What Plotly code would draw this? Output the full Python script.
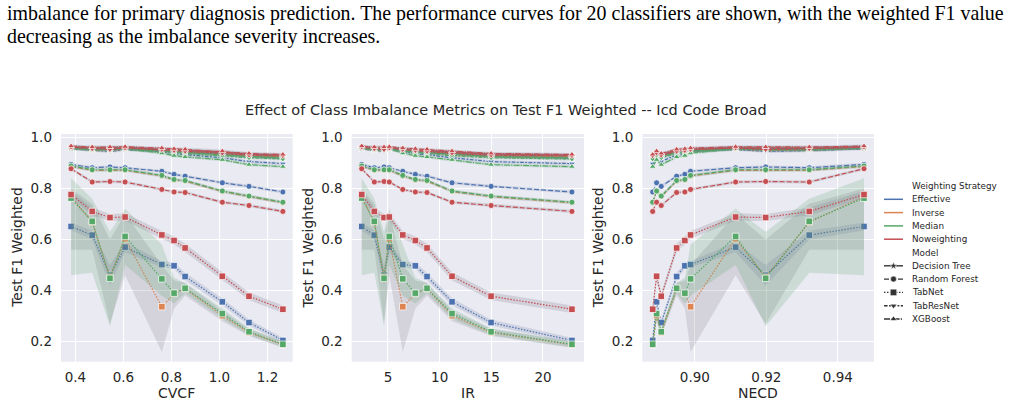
import plotly.graph_objects as go

W, H = 1010, 406

# ---------------- data ----------------
cvcf = [0.382, 0.470, 0.544, 0.607, 0.760, 0.811, 0.857, 1.012, 1.123, 1.264]
ir = [2.46, 3.68, 4.62, 5.13, 6.43, 7.65, 8.78, 11.2, 14.98, 22.8]
necd = [0.9473, 0.9320, 0.9198, 0.9114, 0.8988, 0.8972, 0.8949, 0.8893, 0.8906, 0.8882]

strategies = ["Effective", "Inverse", "Median", "Noweighting"]
models = ["Decision Tree", "Random Forest", "TabNet", "TabResNet", "XGBoost"]

dt_eff = [0.959, 0.955, 0.954, 0.957, 0.950, 0.947, 0.945, 0.938, 0.930, 0.925]
dt_inv = [0.958, 0.954, 0.954, 0.956, 0.949, 0.946, 0.943, 0.936, 0.928, 0.923]
dt_med = [0.957, 0.953, 0.953, 0.955, 0.947, 0.944, 0.941, 0.934, 0.925, 0.920]
dt_now = [0.961, 0.958, 0.957, 0.959, 0.953, 0.950, 0.948, 0.942, 0.934, 0.930]

rf_eff = [0.894, 0.881, 0.884, 0.881, 0.867, 0.855, 0.848, 0.822, 0.808, 0.786]
rf_inv = [0.886, 0.871, 0.871, 0.871, 0.849, 0.833, 0.829, 0.788, 0.768, 0.744]
rf_med = [0.888, 0.873, 0.873, 0.873, 0.851, 0.835, 0.831, 0.790, 0.770, 0.746]
rf_now = [0.877, 0.825, 0.827, 0.825, 0.796, 0.786, 0.784, 0.746, 0.733, 0.710]

tn_eff = [0.651, 0.617, 0.460, 0.570, 0.502, 0.497, 0.455, 0.356, 0.275, 0.205]
tn_inv = [0.768, 0.668, 0.452, 0.603, 0.337, 0.388, 0.407, 0.302, 0.236, 0.188]
tn_med = [0.762, 0.671, 0.448, 0.612, 0.446, 0.390, 0.409, 0.310, 0.239, 0.190]
tn_now = [0.776, 0.710, 0.686, 0.688, 0.618, 0.596, 0.567, 0.456, 0.378, 0.327]

trn_eff = [0.955, 0.948, 0.945, 0.952, 0.944, 0.936, 0.932, 0.920, 0.905, 0.897]
trn_inv = [0.958, 0.950, 0.948, 0.955, 0.948, 0.944, 0.940, 0.932, 0.925, 0.920]
trn_med = [0.960, 0.952, 0.950, 0.955, 0.947, 0.940, 0.937, 0.928, 0.920, 0.915]
trn_now = [0.962, 0.955, 0.952, 0.958, 0.952, 0.948, 0.945, 0.938, 0.930, 0.928]

xgb_eff = [0.963, 0.957, 0.958, 0.960, 0.950, 0.946, 0.944, 0.935, 0.925, 0.918]
xgb_inv = [0.962, 0.958, 0.958, 0.960, 0.953, 0.950, 0.948, 0.940, 0.930, 0.925]
xgb_med = [0.960, 0.950, 0.955, 0.955, 0.938, 0.928, 0.923, 0.912, 0.893, 0.885]
xgb_now = [0.966, 0.962, 0.962, 0.963, 0.958, 0.955, 0.953, 0.946, 0.937, 0.933]

# confidence bands for the TabNet curves
tn_eff_lo = [0.635, 0.600, 0.420, 0.550, 0.490, 0.485, 0.440, 0.343, 0.263, 0.195]
tn_eff_hi = [0.667, 0.634, 0.500, 0.590, 0.515, 0.510, 0.470, 0.370, 0.287, 0.215]
tn_inv_lo = [0.560, 0.560, 0.270, 0.460, 0.160, 0.330, 0.380, 0.280, 0.222, 0.176]
tn_inv_hi = [0.800, 0.740, 0.600, 0.700, 0.500, 0.440, 0.430, 0.320, 0.250, 0.200]
tn_med_lo = [0.460, 0.470, 0.260, 0.500, 0.380, 0.350, 0.390, 0.290, 0.225, 0.178]
tn_med_hi = [0.840, 0.760, 0.630, 0.720, 0.580, 0.450, 0.430, 0.330, 0.252, 0.202]
tn_now_lo = [0.762, 0.695, 0.672, 0.673, 0.603, 0.580, 0.551, 0.440, 0.363, 0.312]
tn_now_hi = [0.790, 0.725, 0.700, 0.703, 0.633, 0.612, 0.583, 0.472, 0.393, 0.342]
ci_half = 0.006  # narrow band for the other curves

caption_1 = ("imbalance for primary diagnosis prediction. The performance curves for 20 "
             "classifiers are shown, with the weighted F1 value")
caption_2 = "decreasing as the imbalance severity increases."
title_text = "Effect of Class Imbalance Metrics on Test F1 Weighted -- Icd Code Broad"

# ---------------- tables built from the lists ----------------
values = {
    ("Effective", "Decision Tree"): dt_eff, ("Inverse", "Decision Tree"): dt_inv,
    ("Median", "Decision Tree"): dt_med, ("Noweighting", "Decision Tree"): dt_now,
    ("Effective", "Random Forest"): rf_eff, ("Inverse", "Random Forest"): rf_inv,
    ("Median", "Random Forest"): rf_med, ("Noweighting", "Random Forest"): rf_now,
    ("Effective", "TabNet"): tn_eff, ("Inverse", "TabNet"): tn_inv,
    ("Median", "TabNet"): tn_med, ("Noweighting", "TabNet"): tn_now,
    ("Effective", "TabResNet"): trn_eff, ("Inverse", "TabResNet"): trn_inv,
    ("Median", "TabResNet"): trn_med, ("Noweighting", "TabResNet"): trn_now,
    ("Effective", "XGBoost"): xgb_eff, ("Inverse", "XGBoost"): xgb_inv,
    ("Median", "XGBoost"): xgb_med, ("Noweighting", "XGBoost"): xgb_now,
}
bands = {
    ("Effective", "TabNet"): (tn_eff_lo, tn_eff_hi),
    ("Inverse", "TabNet"): (tn_inv_lo, tn_inv_hi),
    ("Median", "TabNet"): (tn_med_lo, tn_med_hi),
    ("Noweighting", "TabNet"): (tn_now_lo, tn_now_hi),
}

colors = {"Effective": (76, 114, 176), "Inverse": (221, 132, 82),
          "Median": (85, 168, 104), "Noweighting": (196, 78, 82)}
band_colors = {"Effective": "rgba(90,110,150,0.18)", "Inverse": "rgba(125,120,130,0.20)",
               "Median": "rgba(85,160,104,0.20)", "Noweighting": "rgba(125,120,130,0.22)"}
dashes = {"Decision Tree": "solid", "Random Forest": "5px,2px",
          "TabNet": "1.5px,1.5px", "TabResNet": "3.6px,1.5px,1.8px,1.5px",
          "XGBoost": "6px,1.2px,1.2px,1.2px"}
symbols = {"Decision Tree": "star", "Random Forest": "circle", "TabNet": "square",
           "TabResNet": "triangle-down", "XGBoost": "triangle-up"}
msize = {"Decision Tree": 6, "Random Forest": 6, "TabNet": 6.5,
         "TabResNet": 6, "XGBoost": 6}

TXT = "#262626"
FONT = "DejaVu Sans"

def rgb(c):
    return "rgb(%d,%d,%d)" % c

fig = go.Figure()

panels = [("x", "y", cvcf), ("x2", "y2", ir), ("x3", "y3", necd)]
for xa, ya, xv in panels:
    order = sorted(range(len(xv)), key=lambda i: xv[i])
    xs = [xv[i] for i in order]
    for s in strategies:
        for m in models:
            yv = values[(s, m)]
            if (s, m) in bands:
                lo, hi = bands[(s, m)]
            else:
                lo = [v - ci_half for v in yv]
                hi = [v + ci_half for v in yv]
            los = [lo[i] for i in order]
            his = [hi[i] for i in order]
            fig.add_trace(go.Scatter(
                x=xs + xs[::-1], y=los + his[::-1], fill="toself",
                fillcolor=band_colors[s], mode="lines",
                line=dict(width=0, color="rgba(0,0,0,0)"),
                xaxis=xa, yaxis=ya, showlegend=False, hoverinfo="skip"))
            fig.add_trace(go.Scatter(
                x=xs, y=[yv[i] for i in order], mode="lines+markers",
                line=dict(color=rgb(colors[s]), width=1.2, dash=dashes[m]),
                marker=dict(symbol=symbols[m], size=msize[m], color=rgb(colors[s]),
                            line=dict(color="white", width=0.7)),
                xaxis=xa, yaxis=ya, showlegend=False, name=s + " / " + m))

# ---------------- layout ----------------
def fx(px):
    return px / W

def fy(py):
    return 1 - py / H

top_px, bot_px = 134.0, 361.7
x_doms = [(61.0, 292.7), (351.7, 584.0), (642.3, 874.0)]
x_ranges = [[0.34, 1.305], [1.49, 23.97], [0.8853, 0.9501]]
x_ticks = [([0.4, 0.6, 0.8, 1.0, 1.2], ".1f"), ([5, 10, 15, 20], "d"),
           ([0.90, 0.92, 0.94], ".2f")]
x_titles = ["CVCF", "IR", "NECD"]

axis_common = dict(showgrid=True, gridcolor="white", gridwidth=1, zeroline=False,
                   showline=False, ticks="", automargin=False,
                   tickfont=dict(family=FONT, size=13.5, color=TXT))

layout = dict(width=W, height=H, margin=dict(l=0, r=0, t=0, b=0),
              paper_bgcolor="white", plot_bgcolor="white", template="none",
              showlegend=False, font=dict(family=FONT, color=TXT))

annotations = []
shapes = []
for k in range(3):
    sx = "" if k == 0 else str(k + 1)
    l, r = x_doms[k]
    layout["xaxis" + sx] = dict(axis_common, domain=[fx(l), fx(r)], range=x_ranges[k],
                                anchor="y" + sx, tickvals=x_ticks[k][0],
                                tickformat=x_ticks[k][1], ticklabelstandoff=6)
    layout["yaxis" + sx] = dict(axis_common, domain=[fy(bot_px), fy(top_px)],
                                range=[0.1217, 1.013], anchor="x" + sx,
                                tickvals=[0.2, 0.4, 0.6, 0.8, 1.0], tickformat=".1f",
                                ticklabelstandoff=8)
    shapes.append(dict(type="rect", xref="x" + sx + " domain", yref="y" + sx + " domain",
                       x0=0, x1=1, y0=0, y1=1, fillcolor="#EAEAF2",
                       line=dict(width=0), layer="below"))
    annotations.append(dict(text=x_titles[k], xref="paper", yref="paper",
                            x=fx((l + r) / 2), y=fy(393), xanchor="center",
                            yanchor="middle", showarrow=False,
                            font=dict(family=FONT, size=14, color=TXT)))
    annotations.append(dict(text="Test F1 Weighted", xref="paper", yref="paper",
                            x=fx(l - 44), y=fy((top_px + bot_px) / 2), textangle=-90,
                            xanchor="center", yanchor="middle", showarrow=False,
                            font=dict(family=FONT, size=14, color=TXT)))

# legend drawn on its own hidden axis, in pixel units
layout["xaxis4"] = dict(domain=[fx(875), 1.0], range=[875, 1010], visible=False,
                        anchor="y4", automargin=False)
layout["yaxis4"] = dict(domain=[fy(335), fy(175)], range=[335, 175], visible=False,
                        anchor="x4", automargin=False)

row0, dy = 186.0, 13.3
kx0, kx1, kxm, tx = 884, 903, 893.5, 910
rows = (["Weighting Strategy"] + strategies + ["Model"] + models)
for i, name in enumerate(rows):
    yy = row0 + i * dy
    annotations.append(dict(text=name, xref="x4", yref="y4", x=tx, y=yy,
                            xanchor="left", yanchor="middle", showarrow=False,
                            font=dict(family=FONT, size=8.8, color=TXT)))
    if name in strategies:
        fig.add_trace(go.Scatter(x=[kx0, kx1], y=[yy, yy], mode="lines",
                                 line=dict(color=rgb(colors[name]), width=1.5),
                                 xaxis="x4", yaxis="y4", showlegend=False,
                                 hoverinfo="skip"))
    elif name in models:
        fig.add_trace(go.Scatter(x=[kx0, kx1], y=[yy, yy], mode="lines",
                                 line=dict(color="#333333", width=1.4, dash=dashes[name]),
                                 xaxis="x4", yaxis="y4", showlegend=False,
                                 hoverinfo="skip"))
        fig.add_trace(go.Scatter(x=[kxm], y=[yy], mode="markers",
                                 marker=dict(symbol=symbols[name], size=msize[name],
                                             color="#333333",
                                             line=dict(color="white", width=0.6)),
                                 xaxis="x4", yaxis="y4", showlegend=False,
                                 hoverinfo="skip"))

annotations.append(dict(text=title_text, xref="paper", yref="paper", x=fx(505.5),
                        y=fy(110), xanchor="center", yanchor="middle", showarrow=False,
                        font=dict(family=FONT, size=14.5, color=TXT)))
annotations.append(dict(text=caption_1, xref="paper", yref="paper", x=fx(5), y=fy(13),
                        xanchor="left", yanchor="middle", showarrow=False,
                        font=dict(family="Liberation Serif", size=19.9, color="black")))
annotations.append(dict(text=caption_2, xref="paper", yref="paper", x=fx(5), y=fy(36),
                        xanchor="left", yanchor="middle", showarrow=False,
                        font=dict(family="Liberation Serif", size=19.9, color="black")))

layout["annotations"] = annotations
layout["shapes"] = shapes
fig.update_layout(**layout)
fig.write_html("out.html")
